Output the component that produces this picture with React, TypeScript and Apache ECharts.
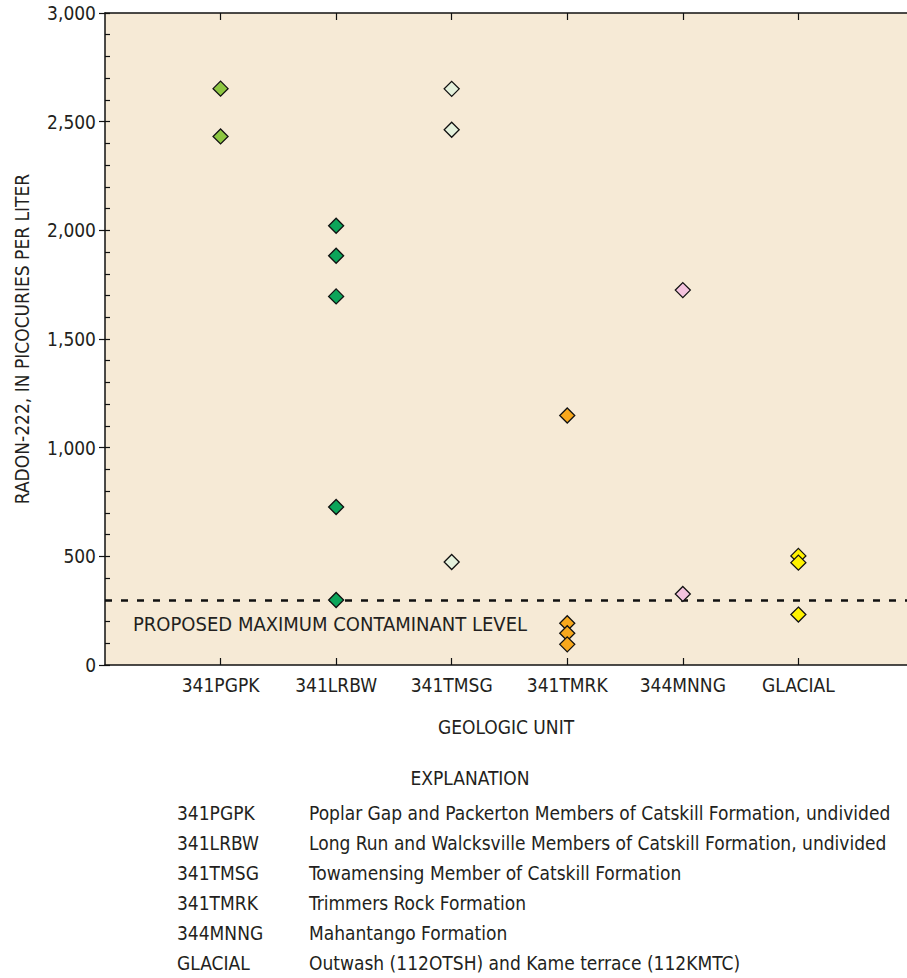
import React, { useEffect, useRef } from "react";
import * as echarts from "echarts";

const categories = ["341PGPK", "341LRBW", "341TMSG", "341TMRK", "344MNNG", "GLACIAL"];
const categoryPositions = [1, 2, 3, 4, 5, 6];
const pgpkValues = [2652, 2432];
const lrbwValues = [2021, 1883, 1696, 727, 299];
const tmsgValues = [2651, 2463, 474];
const tmrkValues = [1148, 192, 146, 95];
const mnngValues = [1725, 327];
const glacialValues = [502, 471, 232];
const seriesValues = [pgpkValues, lrbwValues, tmsgValues, tmrkValues, mnngValues, glacialValues];
const seriesColors = ["#8dc641", "#0ca55a", "#e4f1dc", "#f8a81c", "#f4c3de", "#fff200"];
const mclValue = 300;
const mclLabel = "PROPOSED MAXIMUM CONTAMINANT LEVEL";
const legendTitle = "EXPLANATION";
const legendCodes = categories;
const legendDescriptions = [
  "Poplar Gap and Packerton Members of Catskill Formation, undivided",
  "Long Run and Walcksville Members of Catskill Formation, undivided",
  "Towamensing Member of Catskill Formation",
  "Trimmers Rock Formation",
  "Mahantango Formation",
  "Outwash (112OTSH) and Kame terrace (112KMTC)",
];

const FONT = "'DejaVu Sans Condensed', 'Liberation Sans Narrow', 'Roboto', sans-serif";
const FS = 19;
const INK = "#231f20";

export default function App() {
  const ref = useRef<HTMLDivElement>(null);
  useEffect(() => {
    if (!ref.current) return;
    const chart = echarts.init(ref.current, undefined, { renderer: "svg" });
    const series: any[] = seriesValues.map((vals, i) => ({
      type: "scatter",
      name: categories[i],
      xAxisIndex: 0,
      yAxisIndex: 0,
      symbol: "diamond",
      symbolSize: [15, 15],
      itemStyle: { color: seriesColors[i], borderColor: "#111", borderWidth: 1.3, opacity: 1 },
      data: vals.map((v) => [categoryPositions[i], v]),
      z: 5,
    }));
    series[0].markLine = {
      silent: true,
      symbol: "none",
      lineStyle: { type: [7, 9], color: "#111", width: 2.5 },
      label: {
        show: true,
        position: "insideStartBottom",
        distance: [28, 14],
        formatter: mclLabel,
        color: INK,
        fontSize: 20,
        fontFamily: FONT,
      },
      data: [{ yAxis: mclValue }],
    };
    const textStyle = (text: string, align: string) => ({
      text,
      fontSize: FS,
      fontFamily: FONT,
      fill: INK,
      textAlign: align,
      textVerticalAlign: "middle",
    });
    const legendGraphics: any[] = [
      { type: "text", x: 470, y: 778, style: textStyle(legendTitle, "center") },
    ];
    legendCodes.forEach((c, i) => {
      legendGraphics.push({ type: "text", x: 177, y: 813 + i * 30, style: textStyle(c, "left") });
      legendGraphics.push({
        type: "text",
        x: 309,
        y: 813 + i * 30,
        style: textStyle(legendDescriptions[i], "left"),
      });
    });
    const xBase = {
      type: "value",
      min: 0,
      max: 6.94,
      axisLine: { show: true, onZero: false, lineStyle: { color: "#111", width: 1.5 } },
      axisTick: {
        show: true,
        inside: true,
        length: 7,
        customValues: categoryPositions,
        lineStyle: { color: "#111", width: 1.2 },
      },
      splitLine: { show: false },
    };
    chart.setOption({
      animation: false,
      backgroundColor: "#ffffff",
      textStyle: { fontFamily: FONT, color: INK },
      grid: {
        left: 105,
        right: 0,
        top: 13,
        bottom: 313,
        show: true,
        backgroundColor: "#f6ead6",
        borderWidth: 0,
      },
      xAxis: [
        {
          ...xBase,
          position: "bottom",
          axisLabel: {
            customValues: categoryPositions,
            formatter: (v: number) => categories[categoryPositions.indexOf(v)] ?? "",
            fontSize: FS,
            fontFamily: FONT,
            color: INK,
            margin: 10,
          },
          name: "GEOLOGIC UNIT",
          nameLocation: "middle",
          nameGap: 52,
          nameTextStyle: { fontSize: FS, fontFamily: FONT, color: INK },
        },
        {
          ...xBase,
          position: "top",
          axisLabel: { show: false },
        },
      ],
      yAxis: [
        {
          type: "value",
          position: "left",
          min: 0,
          max: 3000,
          interval: 500,
          axisLine: { show: true, onZero: false, lineStyle: { color: "#111", width: 1.5 } },
          axisTick: { show: true, inside: false, length: 6, lineStyle: { color: "#111", width: 1.2 } },
          axisLabel: {
            formatter: (v: number) => v.toLocaleString("en-US"),
            fontSize: FS,
            fontFamily: FONT,
            color: INK,
            margin: 9,
          },
          splitLine: { show: false },
          name: "RADON-222, IN PICOCURIES PER LITER",
          nameLocation: "middle",
          nameGap: 74,
          nameTextStyle: { fontSize: FS, fontFamily: FONT, color: INK },
        },
        {
          type: "value",
          position: "left",
          offset: 0,
          min: 0,
          max: 3000,
          interval: 100,
          axisLine: { show: false, onZero: false },
          axisTick: { show: true, inside: true, length: 5, lineStyle: { color: "#111", width: 1.2 } },
          axisLabel: { show: false },
          splitLine: { show: false },
        },
      ],
      graphic: legendGraphics,
      series,
    });
    return () => chart.dispose();
  }, []);
  return (
    <div
      ref={ref}
      style={{ position: "absolute", left: 0, top: 0, width: 907, height: 978 }}
    />
  );
}
